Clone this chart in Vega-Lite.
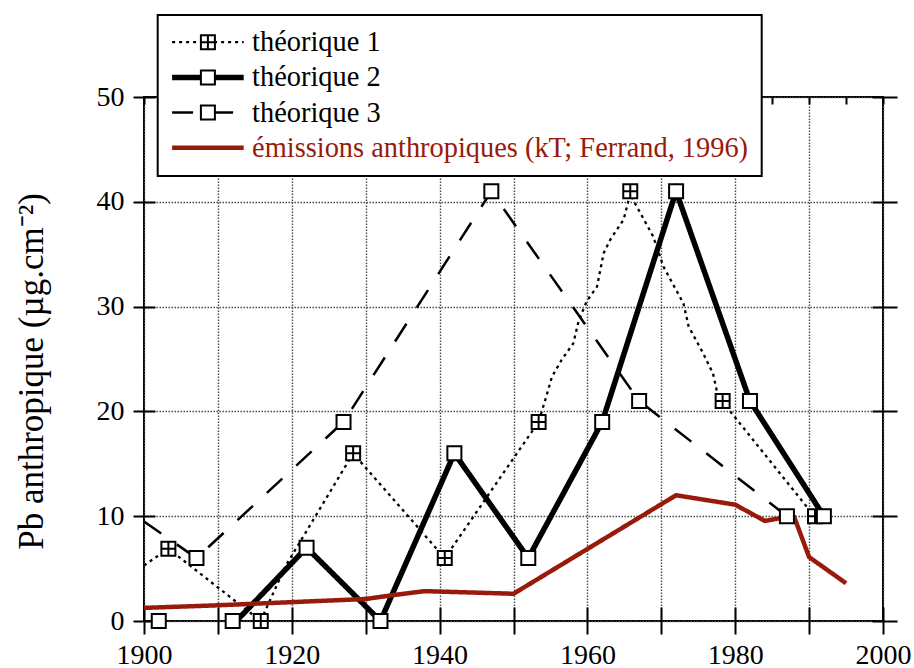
{
  "$schema": "https://vega.github.io/schema/vega-lite/v6.json",
  "width": 739,
  "height": 524,
  "autosize": {"type": "none"},
  "padding": {"left": 144, "top": 97, "right": 31, "bottom": 47},
  "background": "white",
  "config": {
    "view": {"stroke": "black", "strokeWidth": 2},
    "font": "Liberation Serif",
    "axis": {
      "labelFont": "Liberation Serif",
      "titleFont": "Liberation Serif",
      "labelColor": "black",
      "titleColor": "black",
      "tickColor": "black",
      "tickWidth": 2,
      "domain": false
    },
    "legend": {"labelFont": "Liberation Serif"}
  },
  "datasets": {
    "lines": [
      {"series": "théorique 1", "year": 1900, "value": 5.3},
      {"series": "théorique 1", "year": 1903.3, "value": 6.9},
      {"series": "théorique 1", "year": 1915.8, "value": 0},
      {"series": "théorique 1", "year": 1916.8, "value": 1.6},
      {"series": "théorique 1", "year": 1919.2, "value": 5.3},
      {"series": "théorique 1", "year": 1928.3, "value": 16},
      {"series": "théorique 1", "year": 1940.7, "value": 6},
      {"series": "théorique 1", "year": 1953.4, "value": 19},
      {"series": "théorique 1", "year": 1954.3, "value": 21.1},
      {"series": "théorique 1", "year": 1955.2, "value": 23.3},
      {"series": "théorique 1", "year": 1956.5, "value": 24.9},
      {"series": "théorique 1", "year": 1958.1, "value": 26.5},
      {"series": "théorique 1", "year": 1958.8, "value": 28.6},
      {"series": "théorique 1", "year": 1959.9, "value": 30.5},
      {"series": "théorique 1", "year": 1961.3, "value": 31.9},
      {"series": "théorique 1", "year": 1962.2, "value": 35.1},
      {"series": "théorique 1", "year": 1963.1, "value": 36.4},
      {"series": "théorique 1", "year": 1964.9, "value": 38.3},
      {"series": "théorique 1", "year": 1965.8, "value": 40.8},
      {"series": "théorique 1", "year": 1966.4, "value": 39.9},
      {"series": "théorique 1", "year": 1968.9, "value": 36.7},
      {"series": "théorique 1", "year": 1970.3, "value": 33.8},
      {"series": "théorique 1", "year": 1973, "value": 30.3},
      {"series": "théorique 1", "year": 1973.7, "value": 28.1},
      {"series": "théorique 1", "year": 1975.7, "value": 25.5},
      {"series": "théorique 1", "year": 1977, "value": 23.6},
      {"series": "théorique 1", "year": 1977.5, "value": 22},
      {"series": "théorique 1", "year": 1978.3, "value": 20.9},
      {"series": "théorique 1", "year": 1990.6, "value": 10.1},
      {"series": "théorique 2", "year": 1912.5, "value": 0},
      {"series": "théorique 2", "year": 1922, "value": 7},
      {"series": "théorique 2", "year": 1932, "value": 0},
      {"series": "théorique 2", "year": 1942, "value": 16},
      {"series": "théorique 2", "year": 1952, "value": 6},
      {"series": "théorique 2", "year": 1962, "value": 19},
      {"series": "théorique 2", "year": 1972, "value": 41},
      {"series": "théorique 2", "year": 1982, "value": 21},
      {"series": "théorique 2", "year": 1992, "value": 10},
      {"series": "théorique 3", "year": 1900, "value": 9.5},
      {"series": "théorique 3", "year": 1907.1, "value": 6},
      {"series": "théorique 3", "year": 1927, "value": 19},
      {"series": "théorique 3", "year": 1947, "value": 41},
      {"series": "théorique 3", "year": 1967, "value": 21},
      {"series": "théorique 3", "year": 1987, "value": 10},
      {"series": "émissions anthropiques (kT; Ferrand, 1996)", "year": 1900, "value": 1.25},
      {"series": "émissions anthropiques (kT; Ferrand, 1996)", "year": 1910, "value": 1.5},
      {"series": "émissions anthropiques (kT; Ferrand, 1996)", "year": 1920, "value": 1.8},
      {"series": "émissions anthropiques (kT; Ferrand, 1996)", "year": 1930, "value": 2.1},
      {"series": "émissions anthropiques (kT; Ferrand, 1996)", "year": 1934, "value": 2.5},
      {"series": "émissions anthropiques (kT; Ferrand, 1996)", "year": 1938, "value": 2.85},
      {"series": "émissions anthropiques (kT; Ferrand, 1996)", "year": 1950, "value": 2.6},
      {"series": "émissions anthropiques (kT; Ferrand, 1996)", "year": 1972, "value": 12},
      {"series": "émissions anthropiques (kT; Ferrand, 1996)", "year": 1980, "value": 11.1},
      {"series": "émissions anthropiques (kT; Ferrand, 1996)", "year": 1984, "value": 9.55},
      {"series": "émissions anthropiques (kT; Ferrand, 1996)", "year": 1986, "value": 9.8},
      {"series": "émissions anthropiques (kT; Ferrand, 1996)", "year": 1988, "value": 9.9},
      {"series": "émissions anthropiques (kT; Ferrand, 1996)", "year": 1990, "value": 6.1},
      {"series": "émissions anthropiques (kT; Ferrand, 1996)", "year": 1995, "value": 3.6}
    ],
    "markers": [
      {"series": "théorique 1", "year": 1903.3, "value": 6.9},
      {"series": "théorique 1", "year": 1915.8, "value": 0},
      {"series": "théorique 1", "year": 1928.3, "value": 16},
      {"series": "théorique 1", "year": 1940.7, "value": 6},
      {"series": "théorique 1", "year": 1953.4, "value": 19},
      {"series": "théorique 1", "year": 1965.8, "value": 41},
      {"series": "théorique 1", "year": 1978.3, "value": 21},
      {"series": "théorique 1", "year": 1990.8, "value": 10},
      {"series": "théorique 2", "year": 1902, "value": 0},
      {"series": "théorique 2", "year": 1912, "value": 0},
      {"series": "théorique 2", "year": 1922, "value": 7},
      {"series": "théorique 2", "year": 1932, "value": 0},
      {"series": "théorique 2", "year": 1942, "value": 16},
      {"series": "théorique 2", "year": 1952, "value": 6},
      {"series": "théorique 2", "year": 1962, "value": 19},
      {"series": "théorique 2", "year": 1972, "value": 41},
      {"series": "théorique 2", "year": 1982, "value": 21},
      {"series": "théorique 2", "year": 1992, "value": 10},
      {"series": "théorique 3", "year": 1907.1, "value": 6},
      {"series": "théorique 3", "year": 1927, "value": 19},
      {"series": "théorique 3", "year": 1947, "value": 41},
      {"series": "théorique 3", "year": 1967, "value": 21},
      {"series": "théorique 3", "year": 1987, "value": 10}
    ]
  },
  "layer": [
    {
      "data": {"name": "lines"},
      "mark": {"type": "line", "clip": true},
      "encoding": {
        "x": {
          "field": "year", "type": "quantitative",
          "scale": {"domain": [1900, 2000], "zero": false, "nice": false},
          "axis": {
            "orient": "bottom", "title": null,
            "values": [1900, 1910, 1920, 1930, 1940, 1950, 1960, 1970, 1980, 1990, 2000],
            "format": "d",
            "labelExpr": "datum.value % 20 == 0 ? datum.label : ''",
            "offset": -14, "tickSize": 27, "labelPadding": 7,
            "labelFont": "Liberation Serif", "labelColor": "black",
            "labelFontSize": 28, "labelFlush": false, "labelOverlap": false,
            "grid": true, "gridColor": "#4a4a4a", "gridDash": [1.5, 1.5], "gridWidth": 1.4
          }
        },
        "y": {
          "field": "value", "type": "quantitative",
          "scale": {"domain": [0, 50], "nice": false},
          "axis": {
            "orient": "left",
            "title": "Pb anthropique (µg.cm⁻²)",
            "titleFont": "Liberation Serif",
            "titleFontSize": 35, "titleFontWeight": "normal",
            "titleAngle": -90, "titleBaseline": "alphabetic", "titleAlign": "center",
            "titleX": -113, "titleY": 274,
            "values": [0, 10, 20, 30, 40, 50],
            "offset": -11, "tickSize": 22, "labelPadding": 9,
            "labelFont": "Liberation Serif", "labelColor": "black",
            "labelFontSize": 28, "labelFlush": false, "labelOverlap": false,
            "grid": true, "gridColor": "#4a4a4a", "gridDash": [1.5, 1.5], "gridWidth": 1.4
          }
        },
        "color": {
          "field": "series", "type": "nominal",
          "scale": {
            "domain": ["théorique 1", "théorique 2", "théorique 3", "émissions anthropiques (kT; Ferrand, 1996)"],
            "range": ["black", "black", "black", "#981a0b"]
          },
          "legend": {
            "orient": "none", "legendX": 13.7, "legendY": -82,
            "title": null, "padding": 13,
            "fillColor": "white", "strokeColor": "black", "cornerRadius": 0,
            "symbolType": "M-5,0H5", "symbolSize": 205, "symbolOffset": 23,
            "labelFont": "Liberation Serif",
            "labelOffset": 30, "labelFontSize": 28.4, "labelLimit": 800, "rowPadding": 6.2,
            "encode": {
              "legend": {"update": {"strokeWidth": {"value": 2}}},
              "labels": {"update": {"fill": {"signal": "datum.value == 'émissions anthropiques (kT; Ferrand, 1996)' ? '#981a0b' : 'black'"}}}
            }
          }
        },
        "strokeDash": {
          "field": "series", "type": "nominal",
          "scale": {
            "domain": ["théorique 1", "théorique 2", "théorique 3", "émissions anthropiques (kT; Ferrand, 1996)"],
            "range": [[3, 4], [1, 0], [21, 19], [1, 0]]
          }
        },
        "strokeWidth": {
          "field": "series", "type": "nominal",
          "scale": {
            "type": "ordinal",
            "domain": ["théorique 1", "théorique 2", "théorique 3", "émissions anthropiques (kT; Ferrand, 1996)"],
            "range": [2.3, 5.5, 2.5, 4.5]
          }
        }
      }
    },
    {
      "data": {"name": "markers"},
      "mark": {"type": "point", "filled": true, "color": "white", "stroke": "black", "strokeWidth": 2, "size": 196, "opacity": 1},
      "encoding": {
        "x": {
          "field": "year", "type": "quantitative",
          "scale": {"domain": [1900, 2000], "zero": false, "nice": false},
          "axis": {
            "orient": "top", "title": null, "labels": false, "grid": false,
            "values": [1900, 1905, 1910, 1915, 1920, 1925, 1930, 1935, 1940, 1945, 1950, 1955, 1960, 1965, 1970, 1975, 1980, 1985, 1990, 1995, 2000],
            "offset": -7, "tickSize": 7
          }
        },
        "y": {
          "field": "value", "type": "quantitative",
          "scale": {"domain": [0, 50], "nice": false},
          "axis": {
            "orient": "right", "title": null, "labels": false, "grid": false,
            "values": [0, 10, 20, 30, 40, 50],
            "offset": -11, "tickSize": 25
          }
        },
        "shape": {
          "field": "series", "type": "nominal",
          "scale": {
            "domain": ["théorique 1", "théorique 2", "théorique 3"],
            "range": ["M-1,-1H1V1H-1Z M0,-1V1 M-1,0H1", "M-1,-1H1V1H-1Z", "M-1,-1H1V1H-1Z"]
          },
          "legend": {
            "orient": "none", "legendX": 13.7, "legendY": -82,
            "title": null, "padding": 13, "zindex": 1,
            "symbolSize": 196, "symbolOffset": 23, "symbolStrokeWidth": 2, "symbolOpacity": 1,
            "labelFont": "Liberation Serif",
            "labelOffset": 30, "labelFontSize": 28.4, "labelLimit": 800, "rowPadding": 6.2, "labelOpacity": 0
          }
        }
      }
    }
  ],
  "resolve": {"axis": {"x": "independent", "y": "independent"}}
}
